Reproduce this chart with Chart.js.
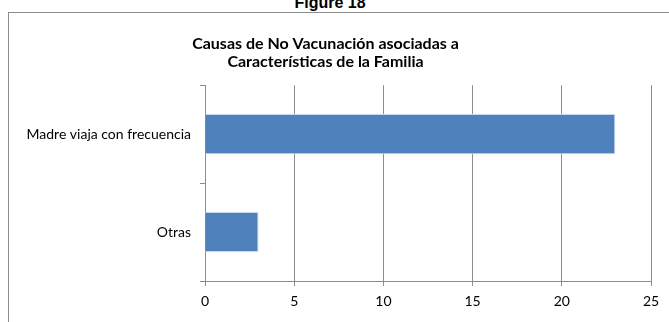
<!DOCTYPE html>
<html>
<head>
<meta charset="utf-8">
<script src="https://cdn.jsdelivr.net/npm/chart.js@4"></script>
<style>
  html, body { margin: 0; padding: 0; background: #fff; overflow: hidden; }
  #wrap { position: relative; width: 669px; height: 322px; }
  #caption {
    position: absolute; left: 0; top: -5px; width: 660px; text-align: center;
    font: bold 16px "Liberation Sans", Arial, sans-serif; line-height: 16px; color: #000;
  }
  #frame {
    position: absolute; left: 8px; top: 12px; width: 700px; height: 400px;
    border: 1px solid #8c8c8c; box-sizing: border-box;
  }
  canvas { position: absolute; left: 0; top: 0; }
</style>
</head>
<body>
<div id="wrap">
  <div id="caption">Figure 18</div>
  <div id="frame"></div>
  <canvas id="chart" width="669" height="322"></canvas>
</div>
<script>
  const categories = ['Madre viaja con frecuencia', 'Otras'];
  const counts = [23, 3];
  const titleLines = ['Causas de No Vacunación asociadas a', 'Características de la Familia'];

  const axisGray = '#8c8c8c';
  const labelFont = { family: 'Lato, "Open Sans", sans-serif', size: 14 };

  new Chart(document.getElementById('chart'), {
    type: 'bar',
    data: {
      labels: categories,
      datasets: [{
        data: counts,
        backgroundColor: '#4f81bd',
        borderColor: '#c9d7ea',
        borderWidth: 1,
        categoryPercentage: 1,
        barPercentage: 0.41
      }]
    },
    options: {
      indexAxis: 'y',
      responsive: false,
      animation: false,
      layout: { padding: { top: 0, right: 18, left: 0, bottom: 0 } },
      plugins: {
        legend: { display: false },
        tooltip: { enabled: false },
        title: {
          display: true,
          text: titleLines,
          color: '#000',
          font: { family: 'Lato, "Open Sans", sans-serif', size: 16, weight: 'bold', lineHeight: 1.1 },
          padding: { top: 35, bottom: 15 }
        }
      },
      scales: {
        x: {
          min: 0,
          max: 25,
          ticks: { stepSize: 5, color: '#000', font: labelFont, padding: 7 },
          grid: { color: axisGray, tickLength: 5 },
          border: { color: axisGray },
          afterFit: (scale) => { scale.height = 41; }
        },
        y: {
          ticks: { color: '#000', font: labelFont, padding: 9 },
          grid: { drawOnChartArea: false, color: axisGray, tickLength: 5 },
          border: { color: axisGray },
          afterFit: (scale) => { scale.width = 205; }
        }
      }
    }
  });
</script>
</body>
</html>
